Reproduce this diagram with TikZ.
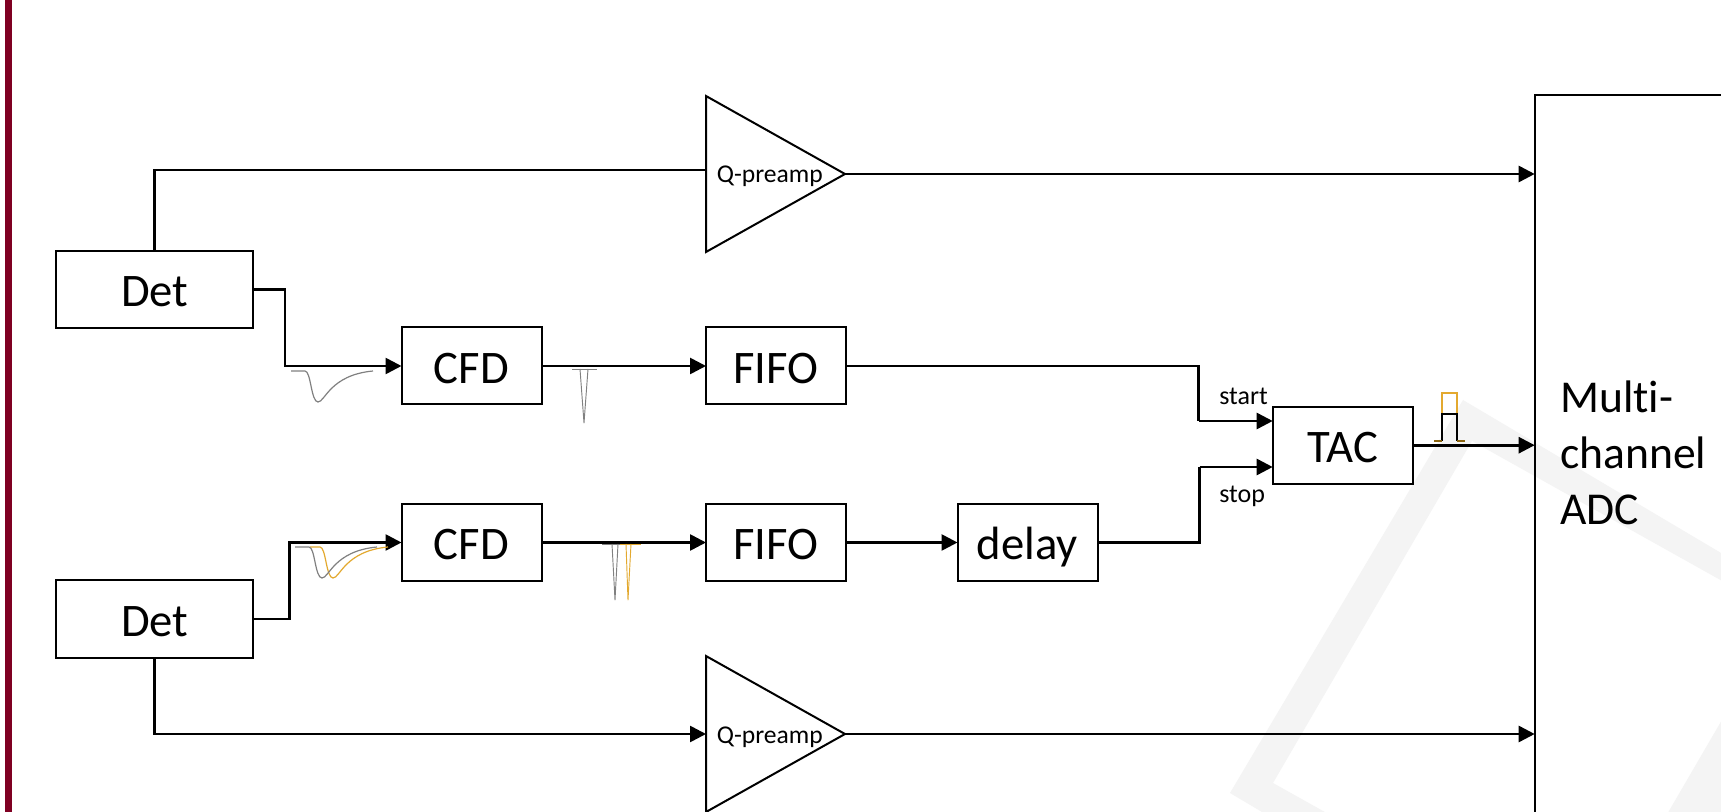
\documentclass[tikz,border=0pt]{standalone}
\usepackage{fontspec}
\setmainfont{Carlito}[Ligatures=NoCommon]
\usetikzlibrary{arrows.meta,calc}
\definecolor{barred}{HTML}{7F0022}
\definecolor{wmgray}{HTML}{F4F4F4}
\definecolor{pulsegray}{HTML}{808080}
\definecolor{pulseorange}{HTML}{E3A92F}
\definecolor{pulsebase}{HTML}{8B6510}
\tikzset{
  x=0.75pt,y=-0.75pt,
  bigtext/.style={font=\fontsize{35}{40}\selectfont},
  adctext/.style={font=\fontsize{34.2}{40}\selectfont,inner sep=0pt,anchor=base west},
  smalltext/.style={font=\fontsize{19.5}{22}\selectfont,inner sep=0pt,anchor=base west},
  amptext/.style={font=\fontsize{19.2}{22}\selectfont,inner sep=0pt,anchor=base west},
  block/.style={draw=black,line width=1.5pt,fill=white,inner sep=0pt,outer sep=0pt,bigtext,minimum height=57.75pt,text height=26pt,text depth=0pt},
  detbox/.style={block,minimum width=148pt},
  procbox/.style={block,minimum width=105pt},
  adcbox/.style={draw=black,line width=1.5pt,inner sep=0pt,outer sep=0pt,minimum width=300pt,minimum height=700pt},
  amp/.style={draw=black,line width=1.5pt,fill=white,line join=miter},
  wire/.style={draw=black,line width=2pt,line join=miter},
  arrowwire/.style={wire,-{Triangle[length=12pt,width=12pt]}},
  graypulse/.style={draw=pulsegray,line width=0.9pt},
  orangepulse/.style={draw=pulseorange,line width=0.9pt},
  spikegray/.style={draw=pulsegray,line width=0.7pt,line join=round},
  spikeorange/.style={draw=pulseorange,line width=0.7pt,line join=round}
}
\begin{document}
\begin{tikzpicture}
\clip (0,0) rectangle (1721,812);
\fill[white] (0,0) rectangle (1721,812);
% watermark
\fill[wmgray,even odd rule] (1463,400) -- (1230,793) -- (1623,1026) -- (1856,633) -- cycle
  (1472,441) -- (1273,783) -- (1584,957) -- (1783,615) -- cycle;
% side bar
\fill[barred] (5,0) rectangle (12,812);
% multi-channel ADC
\node[adcbox,anchor=north west] (adc) at (1534.7,95) {};
\node[adctext] (adcl1) at (1560,413) {Multi-};
\node[adctext] (adcl2) at (1560,469) {channel};
\node[adctext] (adcl3) at (1560,525) {ADC};
% boxes
\node[detbox] (det1) at (154.75,289.5) {Det};
\node[detbox] (det2) at (154.75,619) {Det};
\node[procbox] (cfd1) at (471.5,366) {CFD};
\node[procbox] (fifo1) at (776,366) {FIFO};
\node[procbox] (cfd2) at (471.5,542.5) {CFD};
\node[procbox] (fifo2) at (776,542.5) {FIFO};
\node[procbox] (delay) at (1027.5,542.5) {delay};
\node[procbox] (tac) at (1342.7,445.2) {TAC};
% amplifiers
\coordinate (q1a) at (706,96);
\coordinate (q1b) at (706,252);
\coordinate (q1out) at (845,174);
\coordinate (q1in) at (706,170);
\coordinate (q2a) at (706,656);
\coordinate (q2b) at (706,812);
\coordinate (q2out) at (845,734);
\coordinate (q2in) at (706,734);
\draw[amp] (q1a) -- (q1out) -- (q1b) -- cycle;
\draw[amp] (q2a) -- (q2out) -- (q2b) -- cycle;
\node[amptext] (q1l) at (716.5,183) {Q-preamp};
\node[amptext] (q2l) at (716.5,743) {Q-preamp};
% junctions
\coordinate (j1) at (285,366);
\coordinate (j2) at (289.5,542.5);
\coordinate (sw1) at (1198.5,421);
\coordinate (sw2) at (1199.5,467);
\coordinate (tacin1) at (tac.west |- sw1);
\coordinate (tacin2) at (tac.west |- sw2);
% connectors
\draw[wire] (det1.north) |- (q1in);
\draw[arrowwire] (q1out) -- (q1out -| adc.west);
\draw[arrowwire] (det1.east) -| (j1) -- (cfd1.west);
\draw[arrowwire] (cfd1.east) -- (fifo1.west);
\draw[wire] (fifo1.east) -| (sw1);
\draw[arrowwire] (sw1) -- (tacin1);
\draw[arrowwire] (det2.east) -| (j2) -- (cfd2.west);
\draw[arrowwire] (cfd2.east) -- (fifo2.west);
\draw[arrowwire] (fifo2.east) -- (delay.west);
\draw[wire] (delay.east) -| (sw2);
\draw[arrowwire] (sw2) -- (tacin2);
\draw[arrowwire] (tac.east) -- (tac.east -| adc.west);
\draw[arrowwire] (det2.south) |- (q2in);
\draw[arrowwire] (q2out) -- (q2out -| adc.west);
% labels
\node[smalltext] (startl) at (1219,405) {start};
\node[smalltext] (stopl) at (1219,503) {stop};
% pulses
\draw[graypulse] (291,371) -- (305,371) .. controls (311,371) and (311,402) .. (318,402) .. controls (325,402) and (330,375) .. (373,371);
\draw[orangepulse] (310,547) -- (320,547) .. controls (326,547) and (326,578) .. (333,578) .. controls (340,578) and (345,551) .. (388,547);
\draw[graypulse] (295,547) -- (309,547) .. controls (315,547) and (315,578) .. (322,578) .. controls (329,578) and (334,551) .. (377,547);
\draw[spikegray] (572,369) -- (597,369);
\draw[spikegray] (580,369) -- (584,423) -- (588,369);
\draw[spikegray] (602,544) -- (620,544);
\draw[spikegray] (612,544) -- (615,600) -- (618,544);
\draw[spikeorange] (620,544) -- (641,544);
\draw[spikeorange] (626,544) -- (628,600) -- (631,544);
\draw[draw=pulseorange,line width=0.9pt] (1442,414) -- (1442,393) -- (1457,393) -- (1457,414);
\draw[draw=black,line width=0.8pt] (1442,441) -- (1442,414) -- (1457,414) -- (1457,441);
\draw[draw=pulsebase,line width=1.1pt] (1434,441) -- (1442,441);
\draw[draw=pulsebase,line width=1.1pt] (1457,441) -- (1465,441);
\end{tikzpicture}
\end{document}
